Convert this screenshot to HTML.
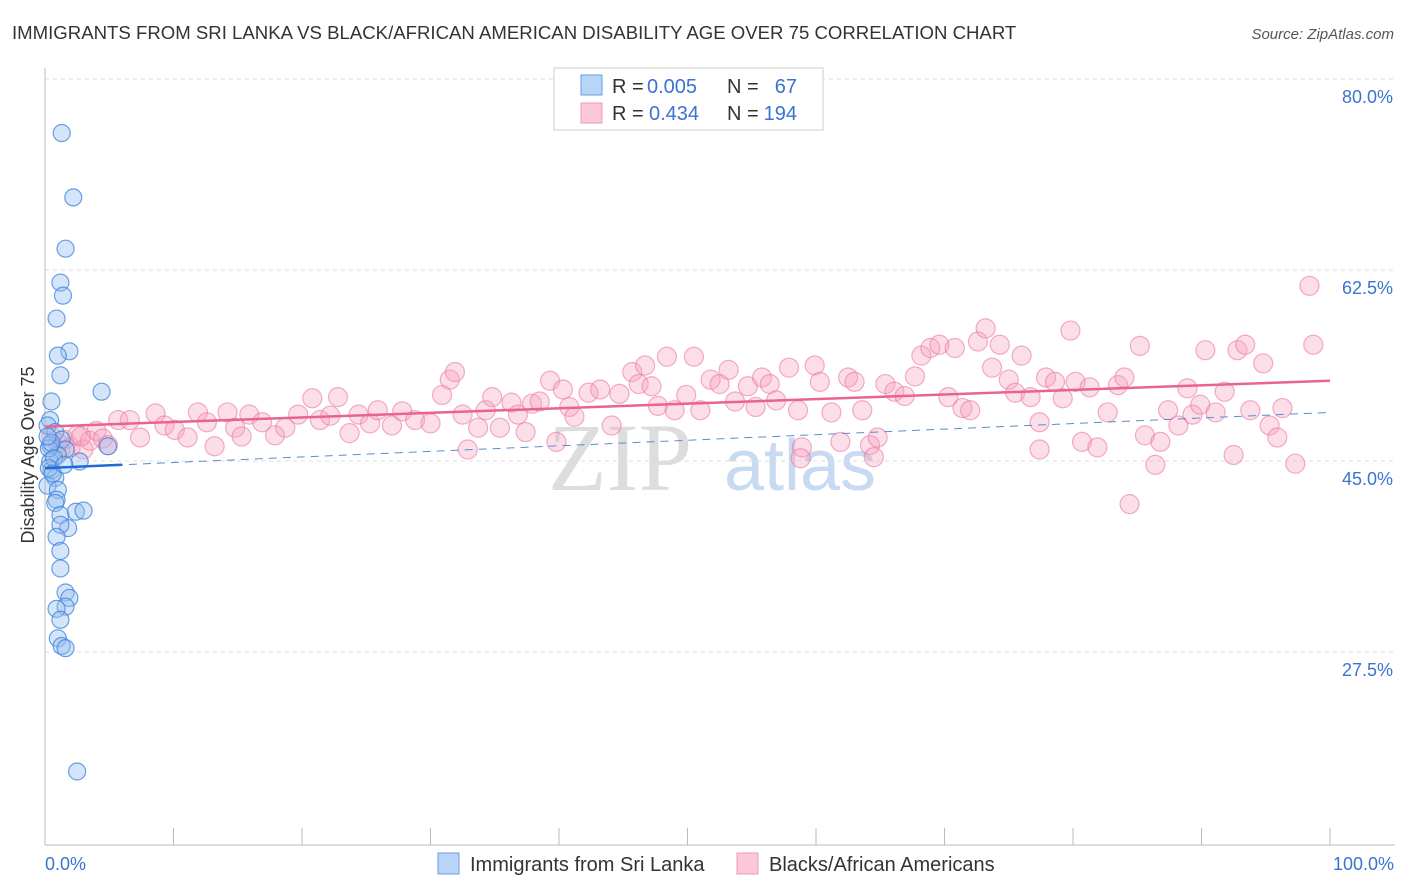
<!DOCTYPE html>
<html><head><meta charset="utf-8"><style>
body{margin:0;background:#fff;font-family:"Liberation Sans",sans-serif;}
svg{display:block}
</style></head><body>
<svg id="chart" width="1406" height="892">
<text x="12" y="39" font-size="18.6" fill="#333">IMMIGRANTS FROM SRI LANKA VS BLACK/AFRICAN AMERICAN DISABILITY AGE OVER 75 CORRELATION CHART</text>
<text x="1394" y="39" font-size="15" fill="#555" font-style="italic" text-anchor="end">Source: ZipAtlas.com</text>
<text x="620" y="490" font-size="96" fill="#ddd" font-family="Liberation Serif,serif" text-anchor="middle">ZIP</text>
<text x="800" y="490" font-size="72" fill="#c8daf2" text-anchor="middle">atlas</text>
<g id="grid"></g>
<g id="axes"></g>
<g id="pink"></g>
<g id="blue"></g>
<g id="lines"></g>
<text transform="translate(34,455) rotate(-90)" font-size="18" fill="#333" text-anchor="middle">Disability Age Over 75</text>
<text x="45" y="870" font-size="18" fill="#3b73d1">0.0%</text>
<text x="1394" y="870" font-size="18" fill="#3b73d1" text-anchor="end">100.0%</text>
<g>
<rect x="554" y="68" width="269" height="62" fill="#fff" stroke="#ccc"/>
<rect x="581" y="75" width="21" height="20" fill="#b8d4f6" stroke="#6a9ee6"/>
<rect x="581" y="103" width="21" height="20" fill="#fac8d8" stroke="#f098b4"/>
<text x="612" y="93" font-size="20" fill="#333">R =</text>
<text x="647" y="93" font-size="20" fill="#3b73d1">0.005</text>
<text x="727" y="93" font-size="20" fill="#333">N =</text>
<text x="797" y="93" font-size="20" fill="#3b73d1" text-anchor="end">67</text>
<text x="612" y="120" font-size="20" fill="#333">R =</text>
<text x="649" y="120" font-size="20" fill="#3b73d1">0.434</text>
<text x="727" y="120" font-size="20" fill="#333">N =</text>
<text x="797" y="120" font-size="20" fill="#3b73d1" text-anchor="end">194</text>
</g>
<g>
<rect x="438" y="853" width="21" height="21" fill="#b8d4f6" stroke="#6a9ee6"/>
<text x="470" y="871" font-size="20" fill="#333">Immigrants from Sri Lanka</text>
<rect x="737" y="853" width="21" height="21" fill="#fac8d8" stroke="#f098b4"/>
<text x="769" y="871" font-size="20" fill="#333">Blacks/African Americans</text>
</g>
</svg>
<script>
const yTicks=[80,62.5,45,27.5];
const yTickLabels=["80.0%","62.5%","45.0%","27.5%"];
const xTicks=[0,10,20,30,40,50,60,70,80,90,100];
const blueX=[1.3,2.2,1.6,1.2,1.4,0.9,1.9,1.0,1.2,4.4,0.5,0.4,0.2,0.8,1.3,0.4,1.6,1.0,0.4,0.5,0.8,0.2,1.0,0.9,0.8,1.2,2.4,3.0,1.8,1.2,0.9,1.2,1.2,1.6,1.9,1.6,0.9,1.2,1.0,1.3,1.6,2.5,0.3,0.5,0.2,0.7,4.9,2.7,0.3,0.6,1.5];
const blueY=[76.7,70.8,66.1,63.0,61.8,59.7,56.7,56.3,54.5,53.0,52.1,50.4,49.9,49.3,48.6,48.1,47.7,47.2,46.6,45.8,45.1,44.4,44.0,43.1,42.8,41.7,42.0,42.1,40.5,40.8,39.7,38.4,36.8,34.6,34.1,33.3,33.1,32.1,30.4,29.7,29.5,18.2,47.8,48.3,48.9,46.9,48.0,46.6,46.0,45.5,46.3];
const pinkX=[0.5,1,1.5,2,2.5,3,3.5,4,4.5,1.2,2.8,4.9,5.7,6.6,7.4,8.6,9.3,10.1,11.1,11.9,12.6,13.2,14.2,14.8,15.3,15.9,16.9,17.9,18.7,19.7,20.8,21.4,22.2,22.8,23.7,24.4,25.3,25.9,27.0,27.8,28.8,30.0,30.9,31.5,31.9,32.5,32.9,33.7,34.3,34.8,35.4,36.3,36.8,37.4,37.9,38.5,39.3,39.8,40.3,40.8,41.2,42.3,43.2,44.1,44.7,45.7,46.2,46.7,47.2,47.7,48.4,49.0,49.9,50.5,51.0,51.8,52.5,53.2,53.7,54.7,55.3,55.8,56.4,56.9,57.9,58.6,58.9,59.9,60.3,61.2,61.9,62.5,63.0,63.6,64.2,64.8,65.4,66.1,66.9,67.7,68.2,68.9,69.6,70.3,70.8,71.4,72.0,72.6,73.2,73.7,74.3,75.0,75.5,76.0,76.7,77.4,77.9,78.6,79.2,79.8,80.2,80.7,81.3,81.9,82.7,83.5,84.0,84.4,85.2,85.6,86.4,86.8,87.4,88.2,88.9,89.3,89.9,90.3,91.1,91.8,92.5,92.8,93.4,93.8,94.8,95.3,95.9,96.3,97.3,98.7,98.4,77.4,58.8,64.5];
const pinkY=[48.9,48.3,48.6,47.9,49.0,47.7,48.5,49.4,48.7,47.6,48.9,48.1,50.4,50.4,48.8,51.0,49.9,49.5,48.8,51.1,50.2,48.0,51.1,49.7,48.9,50.9,50.2,49.0,49.7,50.9,52.4,50.4,50.8,52.5,49.2,50.9,50.1,51.3,49.9,51.2,50.4,50.1,52.7,54.1,54.8,50.9,47.7,49.7,51.3,52.5,49.7,52.0,50.9,49.3,51.9,52.1,54.0,48.4,53.2,51.6,50.7,52.9,53.2,49.9,52.8,54.8,53.7,55.4,53.5,51.7,56.2,51.3,52.7,56.2,51.3,54.1,53.7,55.0,52.1,53.5,51.6,54.3,53.7,52.2,55.2,51.3,47.9,55.4,53.9,51.1,48.4,54.3,53.9,51.3,48.1,48.8,53.7,53.0,52.6,54.4,56.3,57.0,57.3,52.5,57.0,51.5,51.3,57.6,58.8,55.2,57.3,54.1,52.9,56.3,52.5,50.2,54.3,53.9,52.4,58.6,53.9,48.4,53.4,47.9,51.1,53.6,54.3,42.7,57.2,49.0,46.3,48.4,51.3,49.9,53.3,50.9,51.8,56.8,51.1,53.0,47.2,56.8,57.3,51.3,55.6,49.9,48.8,51.5,46.4,57.3,62.7,47.7,46.9,47.0];
const pinkTrend=[49.8,54.0];
const blueTrend=[46.0,51.1];

const NS="http://www.w3.org/2000/svg";
const xS=v=>45+v*12.85;
const yS=v=>97+(80-v)*10.914;
function mk(tag,attrs,parent){const e=document.createElementNS(NS,tag);for(const k in attrs)e.setAttribute(k,attrs[k]);document.getElementById(parent).appendChild(e);return e;}
yTicks.forEach((t,i)=>{
  const g=mk('line',{x1:45,x2:1395,y1:yS(t)-18,y2:yS(t)-18,stroke:'#ddd','stroke-dasharray':'4,4'},'grid');
  
  
  const l=mk('text',{x:1393,y:yS(t)+6,'font-size':18,fill:'#3b73d1','text-anchor':'end'},'grid');
  l.textContent=yTickLabels[i];
  
  
});
const ax=mk('line',{x1:45,x2:45,y1:68,y2:845,stroke:'#bbb'},'axes');


const bx=mk('line',{x1:45,x2:1395,y1:845,y2:845,stroke:'#bbb'},'axes');


xTicks.forEach(t=>{
  const k=mk('line',{x1:xS(t),x2:xS(t),y1:828,y2:845,stroke:'#bbb'},'axes');
  
  
});
pinkX.forEach((x,i)=>{
  const c=mk('circle',{cx:xS(x),cy:yS(pinkY[i]),r:9.5,fill:'rgba(246,160,188,0.35)',stroke:'rgba(236,120,158,0.6)','stroke-width':1.2},'pink');
  
  
});
blueX.forEach((x,i)=>{
  const c=mk('circle',{cx:xS(x),cy:yS(blueY[i]),r:8.5,fill:'rgba(150,190,240,0.4)',stroke:'rgba(60,130,220,0.75)','stroke-width':1.2},'blue');
  
  
});
const bt=v=>blueTrend[0]+(blueTrend[1]-blueTrend[0])*v/100;
const bd=mk('line',{x1:xS(0),y1:yS(bt(0)),x2:xS(100),y2:yS(bt(100)),stroke:'#5a8ad8','stroke-width':1,'stroke-dasharray':'8,6'},'lines');


const bs=mk('line',{x1:xS(0),y1:yS(bt(0)),x2:xS(6),y2:yS(bt(6)),stroke:'#1f6ad4','stroke-width':2.5},'lines');


const pt=mk('line',{x1:xS(0),y1:yS(pinkTrend[0]),x2:xS(100),y2:yS(pinkTrend[1]),stroke:'#e8648e','stroke-width':2.5},'lines');


</script>
</body></html>
